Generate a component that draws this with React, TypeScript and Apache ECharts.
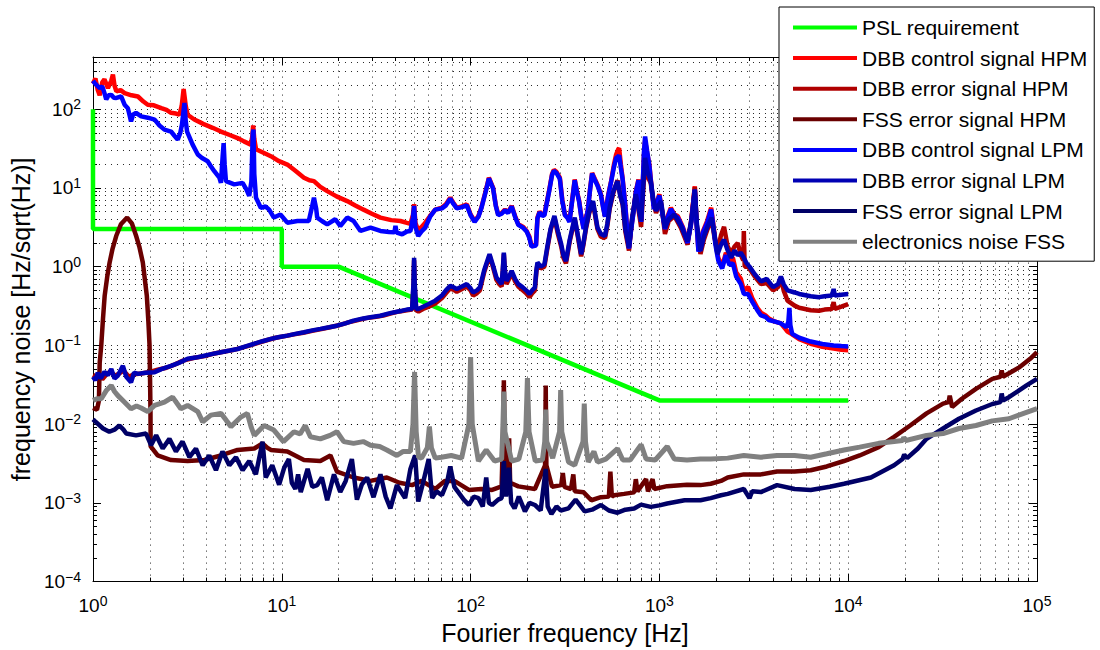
import React, { useEffect, useRef } from "react";
import * as echarts from "echarts";

// ---- axis ranges and tick values ----
const X_MIN = 1;
const X_MAX = 1e5;
const Y_MIN = 1e-4;
const Y_MAX = 460;
const xMajorTicks = [1, 10, 100, 1000, 10000, 100000];
const yMajorTicks = [1e-4, 1e-3, 1e-2, 1e-1, 1, 10, 100];

// ---- series: [frequency in Hz, noise in Hz/sqrt(Hz)] ----
const pslRequirement: [number, number][] = [
  [1, 100], [1, 3], [10, 3], [10, 1], [20, 1], [1000, 0.02], [10000, 0.02],
];

const dbbControlHPM: [number, number][] = [
  [1.0, 210], [1.03, 245], [1.06, 175], [1.085, 150], [1.12, 220], [1.15, 240], [1.2, 185], [1.25, 230],
  [1.275, 275], [1.3, 200], [1.33, 168], [1.4, 175], [1.47, 160], [1.6, 150], [1.73, 145], [1.85, 125],
  [1.95, 114], [2.1, 112], [2.3, 103], [2.45, 98], [2.59, 90], [2.75, 88], [2.87, 85], [2.95, 110],
  [3.02, 180], [3.1, 110], [3.17, 85], [3.44, 74], [3.7, 68], [3.89, 64], [4.3, 58], [4.76, 52],
  [5.3, 47], [5.83, 43], [6.3, 39], [6.85, 35.5], [6.98, 45], [7.05, 62], [7.15, 42], [7.3, 31],
  [8.0, 28], [8.75, 25.3], [9.6, 22], [10.7, 19.8], [11.8, 16.5], [13.1, 13.5], [14.0, 12.5], [14.8, 12.2],
  [16, 10.3], [17.4, 9.1], [19.5, 7.8], [22.2, 6.8], [24.5, 6.0], [27.1, 5.3], [30, 4.7], [33.3, 4.2],
  [38, 3.9], [42.5, 3.8], [46, 3.6], [48, 3.5], [49.5, 4.5], [50.2, 6.2], [51, 3.6], [52.8, 2.9],
  [55, 3.2], [57.4, 3.6], [61, 4.4], [65, 5.3], [70.5, 5.6], [74, 6.2], [78, 7.5], [81, 6.5],
  [84.5, 5.6], [90, 5.8], [95.5, 6.2], [100, 4.6], [105, 3.8], [110, 4.4], [114, 5.6], [120, 9],
  [125, 13.5], [131.6, 10], [136, 6], [140, 4.6], [146, 4.8], [152, 5.3], [158, 4.9], [165, 5.9],
  [172, 4.4], [179, 3.45], [190, 3.2], [198, 2.84], [205, 2.4], [210, 1.83], [222, 1.9], [226, 4.2],
  [232, 5.0], [240, 4.5], [246, 4.6], [260, 9], [270, 15], [276, 17], [285, 16], [297, 13.5],
  [306, 7], [316, 4.6], [325, 4.3], [334, 3.8], [345, 7], [356, 12.8], [366, 9], [376, 6.8],
  [385, 4.5], [397, 3.1], [407, 4], [417, 5.1], [430, 10], [440, 15.5], [455, 13], [470, 11],
  [490, 8.3], [505, 5.6], [515, 4.4], [535, 8], [555, 12.2], [575, 20], [590, 26.6], [605, 31],
  [612, 32], [625, 20], [638, 13.5], [660, 6], [675, 3], [690, 1.75], [705, 2.8], [730, 5.1],
  [750, 9], [775, 12.8], [790, 7], [800, 3.8], [815, 10], [828, 25], [840, 40], [860, 28],
  [885, 19.8], [910, 10], [935, 5.6], [965, 6.5], [1000, 8.3], [1035, 5], [1070, 3.1], [1110, 4.5],
  [1150, 5.6], [1200, 4.6], [1250, 4.4], [1330, 3.2], [1410, 2.1], [1470, 3.5], [1540, 10.5], [1570, 4],
  [1610, 1.6], [1700, 2.8], [1790, 3.8], [1880, 5.6], [1930, 3.5], [1980, 2.1], [2050, 1.3], [2150, 1.0],
  [2250, 1.5], [2350, 1.2], [2450, 1.3], [2550, 0.85], [2700, 0.7], [2800, 0.5], [2950, 0.55], [3100, 0.4],
  [3300, 0.3], [3450, 0.26], [3650, 0.24], [3800, 0.22], [4100, 0.2], [4400, 0.19], [4770, 0.15], [5000, 0.14],
  [5500, 0.12], [6330, 0.105], [7300, 0.096], [8370, 0.091], [9200, 0.088], [10000, 0.087],
];

const dbbErrorHPM: [number, number][] = [
  [1.0, 0.042], [1.04, 0.04], [1.08, 0.044], [1.12, 0.037], [1.18, 0.043], [1.24, 0.047], [1.3, 0.041], [1.38, 0.044],
  [1.45, 0.048], [1.55, 0.04], [1.65, 0.043], [1.8, 0.044], [2.0, 0.046], [2.2, 0.049], [2.45, 0.052], [2.7, 0.057],
  [3.0, 0.064], [3.4, 0.069], [3.9, 0.073], [4.4, 0.079], [4.9, 0.083], [5.5, 0.087], [6.1, 0.093], [6.8, 0.1],
  [7.5, 0.108], [8.4, 0.117], [9.3, 0.125], [10.4, 0.131], [11.6, 0.138], [13, 0.145], [14.5, 0.153], [16.2, 0.161],
  [18, 0.17], [20, 0.18], [22.5, 0.196], [25, 0.208], [28, 0.222], [31, 0.23], [34.5, 0.24], [38, 0.255],
  [42, 0.27], [46, 0.28], [49, 0.285], [49.8, 0.55], [50.2, 1.2], [50.6, 0.55], [51.5, 0.28], [53, 0.27],
  [56, 0.29], [60, 0.31], [65, 0.34], [70.5, 0.4], [74, 0.46], [78, 0.53], [81, 0.51], [84.5, 0.48],
  [90, 0.52], [95.5, 0.56], [100, 0.5], [103, 0.43], [108, 0.46], [112, 0.5], [118, 0.85], [126, 1.38],
  [132, 0.95], [137, 0.68], [142, 0.6], [146, 0.56], [148, 0.85], [150, 1.45], [152, 0.85], [155, 0.6],
  [160, 0.7], [165, 0.84], [172, 0.65], [179, 0.56], [189, 0.5], [197, 0.46], [205, 0.41], [212, 0.46],
  [219, 0.5], [223, 0.85], [226, 1.08], [235, 0.95], [246, 1.0], [255, 1.7], [265, 2.9], [278, 4.2],
  [290, 2.6], [302, 1.8], [310, 1.3], [320, 1.1], [335, 2.1], [356, 4.0], [370, 2.4], [385, 1.35],
  [396, 1.9], [408, 3.0], [425, 4.8], [445, 6.5], [458, 4.3], [470, 3.0], [490, 2.4], [515, 2.3],
  [530, 3.3], [545, 5.4], [570, 8.6], [600, 12.5], [620, 8.2], [640, 6.0], [660, 2.8], [690, 1.6],
  [715, 3.8], [750, 8.5], [775, 5.3], [800, 3.2], [820, 9], [840, 20], [865, 14], [900, 11.5],
  [930, 6.5], [960, 4.8], [990, 5.8], [1020, 6.5], [1045, 4.2], [1070, 2.6], [1120, 3.8], [1200, 4.4],
  [1300, 3.1], [1410, 1.9], [1480, 4.2], [1540, 10.2], [1580, 3.2], [1650, 1.45], [1720, 2.2], [1790, 2.9],
  [1890, 4.0], [1960, 2.3], [2030, 1.6], [2120, 2.5], [2200, 3.2], [2300, 1.8], [2400, 1.5], [2500, 1.8],
  [2600, 2.0], [2700, 1.4], [2780, 1.2], [2800, 2.84], [2830, 1.0], [2950, 1.0], [3200, 0.75], [3450, 0.6],
  [3700, 0.62], [4000, 0.5], [4250, 0.55], [4400, 0.72], [4550, 0.5], [4770, 0.37], [5200, 0.32], [5500, 0.3],
  [6330, 0.28], [7000, 0.275], [7500, 0.285], [8200, 0.29], [8370, 0.355], [8500, 0.29], [9200, 0.31], [10000, 0.335],
];

const fssErrorHPM: [number, number][] = [
  [1.0, 0.016], [1.05, 0.0152], [1.075, 0.02], [1.085, 0.06], [1.106, 0.1], [1.13, 0.22], [1.153, 0.427], [1.19, 0.75],
  [1.225, 1.13], [1.27, 1.7], [1.327, 2.45], [1.405, 3.45], [1.517, 4.2], [1.606, 3.55], [1.693, 2.45], [1.759, 1.8],
  [1.836, 1.13], [1.928, 0.427], [1.965, 0.2], [1.993, 0.1], [2.008, 0.03], [2.016, 0.0145], [2.02, 0.0052], [2.2, 0.004],
  [2.59, 0.0035], [3.17, 0.0034], [3.89, 0.0035], [4.76, 0.004], [5.83, 0.0047], [7.15, 0.0049], [7.9, 0.0057], [8.4, 0.005],
  [8.75, 0.0047], [10.7, 0.0045], [13.1, 0.0035], [16, 0.0034], [18.1, 0.004], [19.6, 0.0025], [24, 0.0021], [29.5, 0.0019],
  [36, 0.0021], [42, 0.0018], [49, 0.00168], [55, 0.0019], [65, 0.0015], [73, 0.0019], [82, 0.0019], [98, 0.00146],
  [114, 0.0015], [130, 0.00146], [146, 0.00162], [149, 0.01], [150, 0.036], [151, 0.01], [155, 0.0016], [158, 0.004],
  [160, 0.0066], [162, 0.0018], [179, 0.00162], [219, 0.0015], [248, 0.003], [250, 0.031], [252, 0.003], [270, 0.0016],
  [302, 0.00168], [308, 0.0024], [314, 0.0016], [340, 0.0015], [350, 0.0023], [356, 0.0014], [397, 0.00136], [436, 0.00108],
  [490, 0.00118], [540, 0.0012], [550, 0.0025], [560, 0.0012], [575, 0.00125], [650, 0.0013], [735, 0.00136], [750, 0.002],
  [765, 0.0014], [850, 0.002], [870, 0.0014], [920, 0.002], [940, 0.0015], [1100, 0.00163], [1400, 0.0017], [1650, 0.00168],
  [1870, 0.00175], [2120, 0.0019], [2300, 0.0021], [2800, 0.0023], [3450, 0.0023], [4200, 0.0025], [5200, 0.0025], [6330, 0.0026],
  [7700, 0.0029], [9500, 0.0034], [11500, 0.004], [14500, 0.0051], [17500, 0.0069], [21300, 0.0096], [26000, 0.0137], [31800, 0.0182],
  [34000, 0.019], [34500, 0.023], [35500, 0.0165], [40000, 0.021], [47500, 0.0281], [58000, 0.0376], [64000, 0.04], [65000, 0.048],
  [66000, 0.04], [73000, 0.046], [81000, 0.053], [92000, 0.0676], [100000, 0.082],
];

const dbbControlLPM: [number, number][] = [
  [1.0, 230], [1.02, 215], [1.05, 200], [1.085, 185], [1.12, 195], [1.15, 160], [1.175, 133], [1.21, 150],
  [1.25, 152], [1.29, 140], [1.33, 139], [1.41, 145], [1.47, 114], [1.53, 103], [1.56, 85], [1.59, 70],
  [1.63, 85], [1.69, 90], [1.8, 81], [1.95, 78], [2.12, 73.6], [2.25, 62], [2.39, 55], [2.59, 52],
  [2.7, 46], [2.81, 41], [2.9, 50], [2.96, 64], [3.05, 120], [3.1, 70], [3.15, 52], [3.37, 35.5],
  [3.59, 26.6], [3.78, 24], [4.05, 21.8], [4.2, 19], [4.39, 16.3], [4.67, 13.5], [4.76, 11.6], [4.86, 25],
  [4.92, 37], [4.98, 20], [5.06, 12.2], [5.6, 11.1], [6.2, 11.6], [6.5, 9.5], [6.72, 7.9], [6.9, 12],
  [7.02, 50], [7.08, 55], [7.15, 15], [7.3, 7.5], [7.74, 5.6], [8.2, 5.8], [8.57, 5.3], [9.08, 4.2],
  [9.83, 4.6], [10.7, 3.62], [12.1, 3.8], [13.9, 3.8], [14.4, 5.5], [14.8, 7.5], [15.2, 5.5], [15.4, 4.2],
  [16.3, 3.8], [17.4, 3.45], [19.2, 4.0], [20.4, 3.28], [22.2, 4.2], [24, 3.8], [26.1, 2.84], [29.5, 3.13],
  [33.3, 2.84], [37, 2.75], [39.5, 2.73], [40, 3.3], [40.6, 2.7], [43.4, 2.58], [46, 2.8], [48, 2.84],
  [49.5, 4.2], [50.2, 5.9], [51, 3.2], [52.8, 2.45], [55, 2.8], [57.4, 3.1], [61, 4.3], [65, 5.3],
  [70.5, 5.5], [74, 6.0], [78, 7.3], [81, 6.3], [84.5, 5.5], [90, 5.7], [95.5, 6.0], [100, 4.5],
  [105, 3.7], [110, 4.3], [114, 5.5], [120, 8.8], [125, 13.2], [131.6, 9.8], [136, 5.9], [140, 4.5],
  [146, 4.7], [152, 5.2], [158, 4.8], [165, 5.8], [172, 4.3], [179, 3.4], [190, 3.1], [198, 2.8],
  [205, 2.3], [210, 1.8], [222, 1.85], [226, 4.1], [232, 4.9], [240, 4.4], [246, 4.5], [260, 8.8],
  [270, 14.5], [276, 16.5], [285, 15.5], [297, 13], [306, 6.8], [316, 4.5], [325, 4.2], [334, 3.7],
  [345, 6.8], [356, 12.5], [366, 8.8], [376, 6.6], [385, 4.4], [397, 3.0], [407, 3.9], [417, 5.0],
  [430, 9.8], [440, 15.2], [455, 12.6], [470, 10.7], [490, 8.1], [505, 5.4], [515, 4.3], [535, 7.8],
  [555, 12], [575, 18.5], [590, 24], [605, 25], [612, 26], [625, 18], [638, 13], [660, 5.8],
  [675, 2.9], [690, 1.7], [705, 2.7], [730, 5.0], [750, 8.8], [775, 12.5], [790, 6.8], [800, 3.7],
  [815, 10], [828, 28], [840, 45], [860, 30], [885, 19], [910, 9.6], [935, 5.4], [965, 6.3],
  [1000, 8.0], [1035, 4.8], [1070, 3.0], [1110, 4.3], [1150, 5.4], [1200, 4.5], [1250, 4.2], [1330, 3.1],
  [1410, 2.0], [1470, 3.4], [1540, 9.5], [1570, 3.8], [1610, 1.55], [1700, 2.7], [1790, 3.6], [1880, 5.3],
  [1930, 3.3], [1980, 1.9], [2050, 1.2], [2150, 0.95], [2250, 1.4], [2350, 1.05], [2450, 1.1], [2550, 0.75],
  [2700, 0.6], [2800, 0.45], [2950, 0.45], [3100, 0.36], [3300, 0.28], [3450, 0.24], [3650, 0.23], [3800, 0.21],
  [4100, 0.2], [4400, 0.19], [4700, 0.17], [4820, 0.2], [4880, 0.3], [4940, 0.18], [5050, 0.14], [5500, 0.125],
  [6330, 0.112], [7300, 0.104], [8370, 0.1], [9200, 0.098], [10000, 0.097],
];

const dbbErrorLPM: [number, number][] = [
  [1.0, 0.04], [1.03, 0.036], [1.06, 0.045], [1.1, 0.038], [1.15, 0.046], [1.2, 0.042], [1.25, 0.05], [1.3, 0.038],
  [1.355, 0.0415], [1.44, 0.055], [1.5, 0.04], [1.59, 0.034], [1.65, 0.045], [1.73, 0.0435], [1.9, 0.045], [2.12, 0.0457],
  [2.3, 0.05], [2.59, 0.055], [2.85, 0.06], [3.17, 0.0676], [3.5, 0.07], [3.89, 0.074], [4.3, 0.078], [4.76, 0.082],
  [5.3, 0.086], [5.83, 0.09], [6.5, 0.098], [7.15, 0.105], [7.9, 0.113], [8.75, 0.121], [9.7, 0.128], [10.7, 0.133],
  [11.8, 0.14], [13.1, 0.147], [14.5, 0.155], [16, 0.162], [17.8, 0.17], [19.6, 0.178], [21.7, 0.19], [24, 0.206],
  [27, 0.22], [30, 0.23], [33.3, 0.238], [37, 0.255], [40, 0.265], [43.4, 0.276], [46, 0.285], [49, 0.29],
  [49.8, 0.6], [50.2, 1.3], [50.6, 0.6], [51.5, 0.29], [52.8, 0.29], [56, 0.31], [60, 0.335], [65, 0.37],
  [70.5, 0.43], [74, 0.5], [78, 0.57], [81, 0.55], [84.5, 0.52], [90, 0.56], [95.5, 0.6], [100, 0.53],
  [103, 0.47], [108, 0.5], [112, 0.545], [118, 0.9], [126, 1.44], [132, 1.0], [137, 0.73], [142, 0.65],
  [146, 0.6], [148, 0.9], [150, 1.51], [152, 0.9], [155, 0.66], [160, 0.75], [165, 0.885], [172, 0.7],
  [179, 0.6], [189, 0.545], [197, 0.5], [205, 0.45], [212, 0.5], [219, 0.545], [223, 0.9], [226, 1.13],
  [235, 1.0], [246, 1.07], [255, 1.8], [265, 3.0], [278, 4.4], [290, 2.8], [302, 1.93], [310, 1.4],
  [320, 1.18], [335, 2.2], [356, 4.2], [370, 2.5], [385, 1.44], [396, 2.0], [408, 3.13], [425, 5],
  [445, 6.8], [458, 4.5], [470, 3.13], [490, 2.6], [515, 2.45], [530, 3.5], [545, 5.6], [570, 9],
  [600, 12.2], [620, 8], [640, 6.2], [660, 3], [690, 1.75], [715, 4], [750, 8.3], [775, 5.5],
  [800, 3.8], [820, 10], [840, 24], [865, 16], [900, 12.2], [930, 7], [960, 5.1], [990, 6],
  [1020, 6.8], [1045, 4.5], [1070, 3.1], [1120, 4], [1200, 4.6], [1300, 3.3], [1410, 2.1], [1480, 4],
  [1540, 9.5], [1580, 3.5], [1650, 1.58], [1720, 2.4], [1790, 3.13], [1890, 4.2], [1960, 2.5], [2030, 1.44],
  [2120, 1.9], [2200, 2.2], [2300, 1.6], [2400, 1.3], [2500, 1.6], [2600, 1.4], [2700, 1.5], [2800, 1.3],
  [2900, 1.1], [3000, 1.0], [3200, 0.8], [3450, 0.65], [3700, 0.7], [4000, 0.55], [4250, 0.6], [4400, 0.75],
  [4550, 0.6], [4770, 0.5], [5200, 0.47], [5500, 0.45], [6330, 0.42], [7000, 0.41], [7500, 0.42], [8200, 0.43],
  [8370, 0.52], [8500, 0.43], [9200, 0.44], [10000, 0.45],
];

const fssErrorLPM: [number, number][] = [
  [1.0, 0.0115], [1.02, 0.011], [1.13, 0.0088], [1.22, 0.008], [1.3, 0.0085], [1.38, 0.0096], [1.45, 0.0085], [1.5, 0.0076],
  [1.69, 0.0072], [1.91, 0.0076], [2.03, 0.0054], [2.16, 0.0072], [2.34, 0.0049], [2.54, 0.0065], [2.75, 0.0045], [2.98, 0.006],
  [3.24, 0.0038], [3.51, 0.0049], [3.81, 0.003], [4.13, 0.004], [4.48, 0.0026], [4.85, 0.0045], [5.27, 0.003], [5.72, 0.0038],
  [6.2, 0.0026], [6.72, 0.0034], [7.29, 0.0023], [7.91, 0.006], [8.22, 0.0021], [8.9, 0.003], [9.68, 0.0017], [10.3, 0.0028],
  [10.9, 0.0036], [11.3, 0.0018], [11.8, 0.0015], [12.2, 0.0023], [12.6, 0.00137], [13.7, 0.0027], [14.5, 0.0016], [15.4, 0.00168],
  [16.3, 0.0021], [17.4, 0.00108], [18.9, 0.0023], [20.4, 0.00137], [21.8, 0.0019], [23.5, 0.0036], [25, 0.0011], [26.5, 0.0017],
  [28.3, 0.0021], [30.6, 0.00118], [33.3, 0.0023], [35.5, 0.0012], [37.6, 0.00085], [40.7, 0.00168], [44, 0.00125], [45, 0.00115],
  [48, 0.0027], [50.8, 0.004], [52.8, 0.00104], [56, 0.0018], [60, 0.0036], [62.6, 0.00115], [66, 0.0014], [70.5, 0.00125],
  [75, 0.0018], [78, 0.0029], [82, 0.0016], [86, 0.00137], [92, 0.0011], [98, 0.00094], [104, 0.0012], [110, 0.00115],
  [116, 0.0009], [121, 0.0021], [125, 0.001], [130, 0.00094], [140, 0.0011], [146, 0.00115], [150, 0.0034], [154, 0.0012],
  [160, 0.0028], [164, 0.001], [171, 0.00085], [180, 0.0012], [194, 0.00078], [205, 0.001], [219, 0.00094], [235, 0.0008],
  [250, 0.0027], [256, 0.0009], [268, 0.00072], [285, 0.0009], [300, 0.0008], [330, 0.00085], [360, 0.0011], [402, 0.00078],
  [440, 0.00082], [490, 0.00094], [540, 0.0008], [600, 0.00075], [660, 0.00082], [735, 0.00085], [800, 0.00095], [900, 0.00089],
  [1000, 0.00093], [1100, 0.00098], [1360, 0.00108], [1650, 0.00108], [1870, 0.00115], [2120, 0.00125], [2300, 0.0013], [2800, 0.0015],
  [3000, 0.00115], [3100, 0.0014], [3450, 0.00137], [4200, 0.00168], [5200, 0.0015], [6330, 0.00146], [8000, 0.0016], [9500, 0.00175],
  [13200, 0.0021], [17500, 0.003], [19400, 0.0036], [19800, 0.0041], [20500, 0.0037], [23400, 0.0049], [26000, 0.0065], [31800, 0.0088],
  [38600, 0.0117], [47500, 0.0149], [58000, 0.018], [64000, 0.019], [65000, 0.0245], [66000, 0.02], [71000, 0.022], [88000, 0.031],
  [100000, 0.0376],
];

const electronicsNoiseFSS: [number, number][] = [
  [1.0, 0.02], [1.05, 0.021], [1.106, 0.021], [1.18, 0.027], [1.25, 0.031], [1.3, 0.026], [1.355, 0.023], [1.47, 0.019],
  [1.59, 0.0157], [1.7, 0.017], [1.8, 0.016], [1.95, 0.0144], [2.12, 0.0173], [2.39, 0.019], [2.64, 0.022], [2.92, 0.0157],
  [3.17, 0.0173], [3.59, 0.0144], [3.81, 0.0107], [4.21, 0.013], [4.76, 0.0137], [5.1, 0.011], [5.38, 0.0093], [6.07, 0.0123],
  [6.57, 0.0137], [6.9, 0.009], [7.15, 0.0072], [8.06, 0.0096], [9.08, 0.0084], [10.2, 0.006], [11.6, 0.008], [12.5, 0.0075],
  [13.3, 0.0096], [14.2, 0.0069], [16, 0.0065], [18, 0.0072], [19.6, 0.008], [21.3, 0.006], [24, 0.0057], [27, 0.006],
  [29.5, 0.0054], [33, 0.0052], [36, 0.0047], [40.7, 0.004], [44, 0.0045], [48, 0.0045], [49.5, 0.01], [50.5, 0.046],
  [51.5, 0.008], [53, 0.0038], [55, 0.0037], [59, 0.005], [60.5, 0.0093], [62, 0.005], [65, 0.0037], [70, 0.0038],
  [79, 0.004], [89.6, 0.0037], [98, 0.01], [100, 0.071], [102, 0.01], [110, 0.0034], [121, 0.0047], [134, 0.0034],
  [146, 0.0036], [148, 0.008], [150, 0.026], [152, 0.008], [165, 0.0034], [180, 0.0036], [196, 0.008], [200, 0.0385],
  [204, 0.008], [220, 0.0034], [240, 0.0035], [247, 0.006], [250, 0.0153], [253, 0.006], [272, 0.0037], [296, 0.008],
  [300, 0.027], [304, 0.008], [330, 0.0033], [356, 0.003], [394, 0.006], [400, 0.0182], [406, 0.006], [420, 0.0033],
  [450, 0.0045], [470, 0.0033], [520, 0.0036], [600, 0.0049], [640, 0.0035], [700, 0.0035], [800, 0.0055], [850, 0.0036],
  [950, 0.0035], [1100, 0.0052], [1200, 0.0036], [1400, 0.0035], [1650, 0.0036], [1870, 0.0036], [2300, 0.0037], [2800, 0.004],
  [3450, 0.0038], [4200, 0.004], [5200, 0.004], [6330, 0.0038], [7700, 0.0042], [9500, 0.0047], [11500, 0.0051], [14500, 0.0057],
  [17500, 0.006], [19400, 0.0062], [19700, 0.0068], [20200, 0.0062], [26000, 0.0072], [31800, 0.0076], [38600, 0.0088], [47500, 0.0096],
  [58000, 0.011], [71000, 0.0117], [85000, 0.0137], [100000, 0.0157],
];

const seriesList: { name: string; color: string; data: [number, number][]; width?: number }[] = [
  { name: "PSL requirement", color: "#00ff00", data: pslRequirement },
  { name: "DBB control signal HPM", color: "#ff0000", data: dbbControlHPM },
  { name: "DBB error signal HPM", color: "#b00000", data: dbbErrorHPM },
  { name: "FSS error signal HPM", color: "#6a0000", data: fssErrorHPM },
  { name: "DBB control signal LPM", color: "#0000ff", data: dbbControlLPM },
  { name: "DBB error signal LPM", color: "#0000b4", data: dbbErrorLPM },
  { name: "FSS error signal LPM", color: "#000066", data: fssErrorLPM },
  { name: "electronics noise FSS", color: "#808080", data: electronicsNoiseFSS, width: 5 },
];

const FONT = "'Liberation Sans', Arial, Helvetica, sans-serif";

// decade positions k x 10^n strictly inside a range (k from 2, or from 1 to include the decades)
function decadeSteps(lo: number, hi: number, withMajors: boolean): number[] {
  const out: number[] = [];
  for (let e = Math.floor(Math.log10(lo)); e <= Math.ceil(Math.log10(hi)); e++) {
    for (let k = withMajors ? 1 : 2; k <= 9; k++) {
      const v = k * Math.pow(10, e);
      if (v > lo * 1.0001 && v < hi * 0.9999) out.push(v);
    }
  }
  return out;
}

const xMinor = decadeSteps(X_MIN, X_MAX, false);
const yMinor = decadeSteps(Y_MIN, Y_MAX, false);
const xGrid = decadeSteps(X_MIN, X_MAX, true);
const yGrid = decadeSteps(Y_MIN, Y_MAX, true);

function powerLabel(v: number): string {
  const e = Math.round(Math.log10(v));
  const txt = e < 0 ? "\u2212" + -e : String(e);
  return `{b|10}{s|${txt}}`;
}

const labelRich = {
  b: { fontSize: 19, fontFamily: FONT, color: "#000", lineHeight: 24 },
  s: { fontSize: 14, fontFamily: FONT, color: "#000", lineHeight: 12, verticalAlign: "top" },
};

function makeAxis(kind: "x" | "y", position: string, minor: boolean, labelled: boolean) {
  const isX = kind === "x";
  return {
    type: "log",
    logBase: 10,
    min: isX ? X_MIN : Y_MIN,
    max: isX ? X_MAX : Y_MAX,
    position,
    axisLine: { show: !minor, onZero: false, lineStyle: { color: "#000", width: 1 } },
    axisTick: {
      show: true,
      inside: true,
      length: minor ? 4 : 8,
      customValues: minor ? (isX ? xMinor : yMinor) : isX ? xMajorTicks : yMajorTicks,
      lineStyle: { color: "#000", width: 1 },
    },
    axisLabel: labelled
      ? {
          show: true,
          customValues: isX ? xMajorTicks : yMajorTicks,
          formatter: powerLabel,
          rich: labelRich,
          margin: 12,
        }
      : { show: false },
    splitLine: { show: false },
    minorTick: { show: false },
    minorSplitLine: { show: false },
  };
}

export default function App() {
  const ref = useRef<HTMLDivElement>(null);

  useEffect(() => {
    if (!ref.current) return;
    const chart = echarts.init(ref.current, undefined, { renderer: "svg" });

    const xAxes = [
      {
        ...makeAxis("x", "bottom", false, true),
        name: "Fourier frequency [Hz]",
        nameLocation: "middle",
        nameGap: 36,
        nameTextStyle: { fontSize: 25, fontFamily: FONT, color: "#000" },
      },
      makeAxis("x", "bottom", true, false),
      makeAxis("x", "top", false, false),
      makeAxis("x", "top", true, false),
    ];
    const yAxes = [
      {
        ...makeAxis("y", "left", false, true),
        name: "frequency noise [Hz/sqrt(Hz)]",
        nameLocation: "middle",
        nameGap: 55,
        nameTextStyle: { fontSize: 25, fontFamily: FONT, color: "#000" },
      },
      makeAxis("y", "left", true, false),
      makeAxis("y", "right", false, false),
      makeAxis("y", "right", true, false),
    ];

    // dotted grid at every decade and sub-decade step
    const gridLines = {
      name: "grid",
      type: "line",
      data: [],
      silent: true,
      markLine: {
        silent: true,
        z: 1,
        symbol: ["none", "none"],
        label: { show: false },
        emphasis: { disabled: true },
        lineStyle: { color: "#000", type: [1, 5], width: 1, opacity: 0.85 },
        data: [...xGrid.map((v) => ({ xAxis: v })), ...yGrid.map((v) => ({ yAxis: v }))],
      },
    };

    const option = {
      animation: false,
      backgroundColor: "#fff",
      grid: { left: 90, right: 63, top: 57, bottom: 67, containLabel: false },
      xAxis: xAxes,
      yAxis: yAxes,
      legend: {
        data: seriesList.map((s) => s.name),
        orient: "vertical",
        left: 779,
        top: 7,
        backgroundColor: "#fff",
        borderColor: "#000",
        borderWidth: 1,
        borderRadius: 0,
        padding: [10, 7, 9, 14],
        itemGap: 9.6,
        itemWidth: 64,
        itemHeight: 4,
        icon: "rect",
        selectedMode: false,
        textStyle: { fontSize: 21, fontFamily: FONT, color: "#000", lineHeight: 20 },
        z: 10,
      },
      series: [
        gridLines,
        ...seriesList.map((s) => ({
          name: s.name,
          type: "line",
          data: s.data,
          showSymbol: false,
          symbol: "none",
          color: s.color,
          lineStyle: { color: s.color, width: s.width ?? 4.5 },
          emphasis: { disabled: true },
          silent: true,
          clip: true,
          z: 2,
        })),
      ],
    };

    chart.setOption(option as any);
    return () => chart.dispose();
  }, []);

  return (
    <div
      ref={ref}
      style={{ position: "fixed", left: 0, top: 0, width: 1100, height: 650, background: "#fff" }}
    />
  );
}
